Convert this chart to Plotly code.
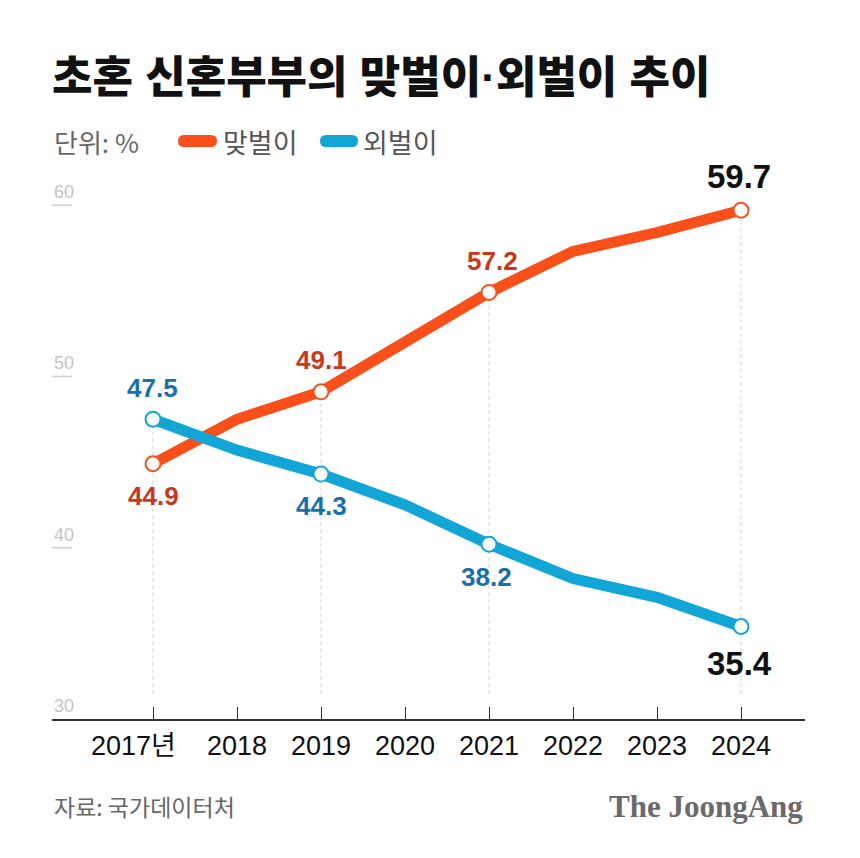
import plotly.graph_objects as go

# values (%)
years = [2017, 2018, 2019, 2020, 2021, 2022, 2023, 2024]
year_labels = ['2017년', '2018', '2019', '2020', '2021', '2022', '2023', '2024']
dual = [44.9, 47.5, 49.1, 52.0, 54.9, 57.3, 58.4, 59.7]      # 맞벌이
single = [47.5, 45.7, 44.3, 42.5, 40.2, 38.2, 37.1, 35.4]    # 외벌이

# points that get a marker + value label, and the label texts printed there
marked = [0, 2, 4, 7]
dual_text = ['44.9', '49.1', '57.2', '59.7']
single_text = ['47.5', '44.3', '38.2', '35.4']
y_ticks = [30, 40, 50, 60]

ORANGE = '#f9501b'
BLUE = '#12a6d6'
ORANGE_TXT = '#c9381b'
BLUE_TXT = '#1a70aa'
NUM_FONT = 'Liberation Sans, Arial, Noto Sans CJK KR'
KR_FONT = 'Noto Sans CJK KR, Noto Sans, sans-serif'

W, H = 860, 858
OFF = 8  # the page body adds an 8px margin, so pull everything back by that much
PL, PT, PW, PH = 52, 170, 753, 549   # target plot box in page pixels
L, T = PL - OFF, PT - OFF
R, B = W - L - PW, H - T - PH


def px(x):
    return (x - PL) / PW


def py(y):
    return (PT + PH - y) / PH


fig = go.Figure()
fig.add_trace(go.Scatter(x=years, y=dual, mode='lines', name='맞벌이',
                         line=dict(color=ORANGE, width=11), hoverinfo='skip'))
fig.add_trace(go.Scatter(x=years, y=single, mode='lines', name='외벌이',
                         line=dict(color=BLUE, width=11), hoverinfo='skip'))
for vals, color in [(dual, ORANGE), (single, BLUE)]:
    fig.add_trace(go.Scatter(
        x=[years[i] for i in marked], y=[vals[i] for i in marked], mode='markers',
        marker=dict(size=15, color='white', line=dict(color=color, width=2)),
        hoverinfo='skip'
    ))

# dashed drop lines below the marked points
for i in marked:
    fig.add_shape(type='line', x0=years[i], x1=years[i], y0=31.45, y1=max(dual[i], single[i]),
                  xref='x', yref='y', layer='below',
                  line=dict(color='#d6d6d6', width=1, dash='4px,3px'))

# value labels
orange_shift = [(0, -32), (0, 32), (3, 31), (-2, 34)]
blue_shift = [(-1, 31), (0, -32), (-3, -33), (-2, -37)]
for k, i in enumerate(marked):
    last = i == len(years) - 1
    fig.add_annotation(x=years[i], y=dual[i], text=dual_text[k], showarrow=False,
                       xshift=orange_shift[k][0], yshift=orange_shift[k][1],
                       font=dict(family=NUM_FONT, size=33 if last else 26, weight='bold',
                                 color='#111' if last else ORANGE_TXT))
    fig.add_annotation(x=years[i], y=single[i], text=single_text[k], showarrow=False,
                       xshift=blue_shift[k][0], yshift=blue_shift[k][1],
                       font=dict(family=NUM_FONT, size=33 if last else 26, weight='bold',
                                 color='#111' if last else BLUE_TXT))

# x labels (the first one, with 년, sits left of its tick)
for k, (yr, lab) in enumerate(zip(years, year_labels)):
    fig.add_annotation(x=yr, y=0, yref='paper', text=lab, showarrow=False,
                       xanchor='center', yanchor='middle', yshift=-27,
                       xshift=-20 if k == 0 else 0,
                       font=dict(family=NUM_FONT, size=27, color='#111'))

# y tick labels sit above a short grey underline
for t in y_ticks:
    fig.add_annotation(x=0, y=t, xref='paper', yref='y', text=str(t), showarrow=False,
                       xanchor='left', yanchor='bottom', yshift=1,
                       font=dict(family=NUM_FONT, size=18, color='#c4c4c4'))
    if t != y_ticks[0]:
        fig.add_shape(type='line', x0=0, x1=px(72), y0=t, y1=t, xref='paper', yref='y',
                      line=dict(color='#d0d0d0', width=1.5))

# header: unit + legend
fig.add_annotation(x=px(52), y=py(141), xref='paper', yref='paper', text='단위: %',
                   showarrow=False, xanchor='left', yanchor='middle',
                   font=dict(family=KR_FONT, size=26, color='#666'))


def pill(x0, x1, yc, h, color):
    y0, y1 = py(yc + h / 2), py(yc - h / 2)
    ym = py(yc)
    r = (h / 2) / PW
    a0, a1 = px(x0), px(x1)
    path = (f'M {a0 + r},{y0} L {a1 - r},{y0} Q {a1},{y0} {a1},{ym} Q {a1},{y1} {a1 - r},{y1} '
            f'L {a0 + r},{y1} Q {a0},{y1} {a0},{ym} Q {a0},{y0} {a0 + r},{y0} Z')
    fig.add_shape(type='path', path=path, xref='paper', yref='paper',
                  fillcolor=color, line=dict(width=0))


pill(178, 217, 141, 12, ORANGE)
pill(320, 358, 141, 12, BLUE)
for x0, label in [(221, '맞벌이'), (361, '외벌이')]:
    fig.add_annotation(x=px(x0), y=py(141), xref='paper', yref='paper', text=label,
                       showarrow=False, xanchor='left', yanchor='middle',
                       font=dict(family=KR_FONT, size=27, color='#555'))

# footer
fig.add_annotation(x=px(52), y=py(806), xref='paper', yref='paper', text='자료: 국가데이터처',
                   showarrow=False, xanchor='left', yanchor='middle',
                   font=dict(family=KR_FONT, size=23, color='#666'))
fig.add_annotation(x=px(805), y=py(806), xref='paper', yref='paper', text='The JoongAng',
                   showarrow=False, xanchor='right', yanchor='middle',
                   font=dict(family='Liberation Serif, DejaVu Serif, serif', size=31,
                             weight='bold', color='#6a6a6a'))

fig.update_layout(
    width=W, height=H,
    margin=dict(l=L, r=R, t=T, b=B),
    paper_bgcolor='white', plot_bgcolor='white',
    showlegend=False,
    title=dict(text='초혼 신혼부부의 맞벌이·외벌이 추이', xref='container', yref='container',
               x=L / W, y=1 - (78 - OFF) / H, xanchor='left', yanchor='middle',
               font=dict(family='Liberation Sans, ' + KR_FONT, size=44, weight=900, color='#111')),
    xaxis=dict(range=[years[0] - 101 / 84, years[-1] + 64 / 84],
               showticklabels=False,
               showline=True, linecolor='#333', linewidth=1.5,
               ticks='inside', ticklen=12, tickcolor='#333', tickwidth=1,
               tickmode='array', tickvals=years,
               showgrid=False, zeroline=False, fixedrange=True),
    yaxis=dict(range=[30, 30 + PH / 17.13], showticklabels=False,
               showgrid=False, zeroline=False, showline=False, fixedrange=True),
)

fig.write_html('out.html')
